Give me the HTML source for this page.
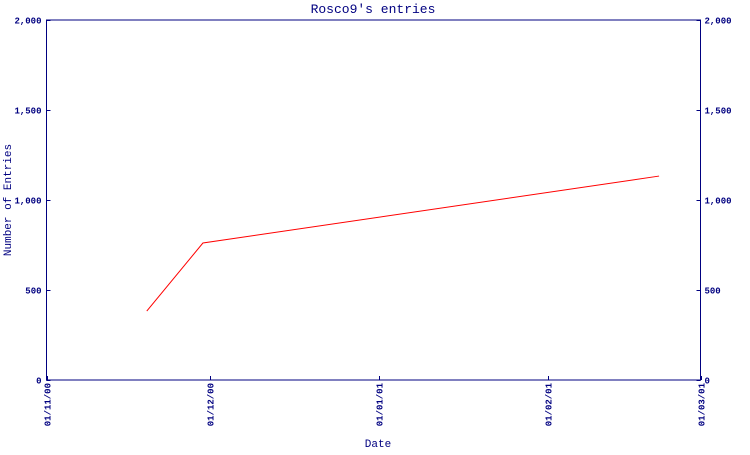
<!DOCTYPE html>
<html><head><meta charset="utf-8"><style>
body{margin:0;background:#fff;}
svg text{font-family:"Liberation Mono","DejaVu Sans Mono",monospace;fill:#000080;}
</style></head><body>
<svg width="750" height="450">
<text x="373" y="13" font-size="13" text-anchor="middle">Rosco9's entries</text>
<text x="378" y="447" font-size="11" text-anchor="middle">Date</text>
<text transform="translate(11,200) rotate(-90)" font-size="11" text-anchor="middle">Number of Entries</text>
<g id="axes"></g>
<g id="marks"></g>
</svg>
<script>
const xTickLabels=["01/11/00","01/12/00","01/01/01","01/02/01","01/03/01"];
const xTickDays=[0,30,61,92,120];
const yTicks=[0,500,1000,1500,2000];
const yTickLabels=["0","500","1,000","1,500","2,000"];
const pointDays=[18.4,28.7,112.4];
const pointValues=[383,761,1133];

const L=46.5,R=700.5,T=20,B=380;
const xS=d=>L+d/120*(R-L);
const yS=v=>B-v/2000*(B-T);
const NS="http://www.w3.org/2000/svg";
const axes=document.getElementById('axes'),marks=document.getElementById('marks');
function mk(tag,attrs,parent,txt){const e=document.createElementNS(NS,tag);for(const k in attrs)e.setAttribute(k,attrs[k]);if(txt!==undefined)e.textContent=txt;parent.appendChild(e);return e;}
const frame=mk('rect',{x:L,y:T,width:R-L,height:B-T,fill:'none',stroke:'#000080','stroke-width':1},axes);


yTicks.forEach((v,i)=>{
 const y=Math.round(yS(v))+0.5;
 const t1=mk('line',{x1:L,x2:L+4,y1:y,y2:y,stroke:'#000080'},axes);
 
 
 const t2=mk('line',{x1:R-4,x2:R,y1:y,y2:y,stroke:'#000080'},axes);
 
 
 const a=mk('text',{x:L-5,y:y+3,'font-size':9,'font-weight':'bold','text-anchor':'end'},axes,yTickLabels[i]);
 
 
 const b=mk('text',{x:R+4,y:y+3,'font-size':9,'font-weight':'bold'},axes,yTickLabels[i]);
 
 
});
xTickDays.forEach((d,i)=>{
 const x=Math.round(xS(d))+0.5;
 const t=mk('line',{x1:x,x2:x,y1:B-4,y2:B,stroke:'#000080'},axes);
 
 
 const l=mk('text',{transform:`translate(${x+3},${B+3}) rotate(-90)`,'font-size':9,'font-weight':'bold','text-anchor':'end'},axes,xTickLabels[i]);
 
 
});
const pts=pointDays.map((d,i)=>xS(d)+','+yS(pointValues[i])).join(' ');
const line=mk('polyline',{points:pts,fill:'none',stroke:'#ff0000','stroke-width':1},marks);


</script>
</body></html>
